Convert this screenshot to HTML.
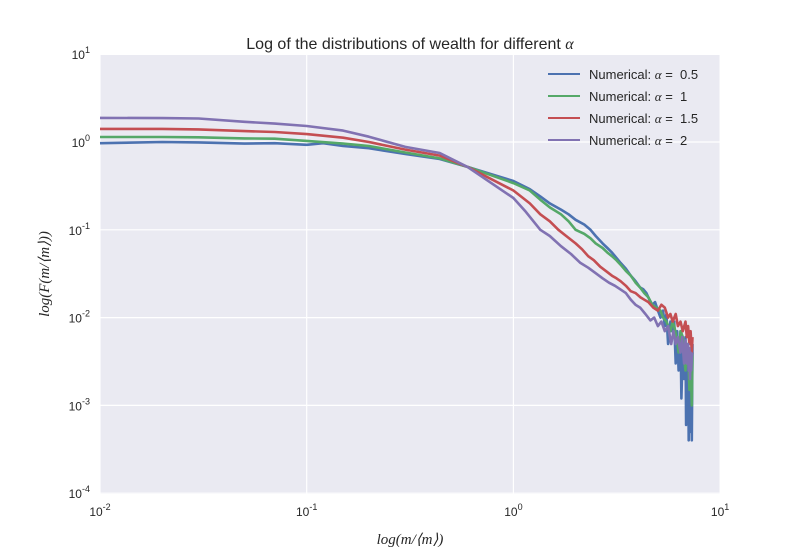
<!DOCTYPE html>
<html><head><meta charset="utf-8"><style>
body{margin:0;background:#fff;width:800px;height:550px;overflow:hidden;font-family:"Liberation Sans",sans-serif}
.sans{font-family:"Liberation Sans",sans-serif}
.math{font-family:"Liberation Serif",serif;font-style:italic}
</style></head><body>
<svg id="chart" width="800" height="550">
<rect x="100" y="55" width="620" height="439" fill="#EAEAF2"/>
<g id="grid"></g>
<g id="series"></g>
<g id="ticks"></g>
<text class="sans" x="410" y="49" font-size="16" text-anchor="middle" fill="#262626">Log of the distributions of wealth for different <tspan class="math">α</tspan></text>
<text class="math" x="410" y="544" font-size="15" text-anchor="middle" fill="#262626">log(m/⟨m⟩)</text>
<text class="math" transform="translate(49,274) rotate(-90)" font-size="15" text-anchor="middle" fill="#262626">log(F(m/⟨m⟩))</text>
<g id="legend"></g>
</svg>
<script>
const xTicks=[-2,-1,0,1];
const yTicks=[1,0,-1,-2,-3,-4];
const seriesNames=["0.5","1","1.5","2"];
const colors=["#4C72B0","#55A868","#C44E52","#8172B2"];
const mBlue=[0.01,0.02,0.03,0.05,0.07,0.1,0.12,0.15,0.2,0.3,0.44,0.6,1,1.2,1.35,1.5,1.7,1.85,2.0,2.2,2.36,2.5,2.7,2.85,3.0,3.15,3.3,3.5,3.7,3.9,4.1,4.25,4.4,4.55,4.7,4.85,5.0,5.15,5.3,5.4,5.5,5.6,5.75,5.85,6.0,6.1,6.2,6.3,6.43,6.5,6.6,6.7,6.8,6.85,6.9,6.95,7.0,7.05,7.1,7.15,7.2,7.25,7.3,7.35];
const vBlue=[0.97,1.0,0.99,0.96,0.97,0.93,0.97,0.9,0.85,0.73,0.64,0.52,0.36,0.29,0.24,0.2,0.17,0.15,0.13,0.115,0.1,0.085,0.07,0.062,0.055,0.048,0.042,0.036,0.03,0.026,0.022,0.021,0.019,0.016,0.014,0.015,0.012,0.01,0.012,0.008,0.011,0.005,0.009,0.007,0.009,0.003,0.007,0.0025,0.007,0.0012,0.005,0.002,0.006,0.0006,0.004,0.001,0.005,0.0004,0.004,0.0015,0.0005,0.003,0.0004,0.005];
const mGreen=[0.01,0.02,0.03,0.05,0.07,0.1,0.15,0.2,0.3,0.44,0.6,1,1.2,1.35,1.5,1.7,1.85,2.0,2.2,2.36,2.5,2.7,2.85,3.0,3.15,3.3,3.5,3.7,3.9,4.1,4.3,4.5,4.7,4.9,5.15,5.3,5.5,5.75,5.9,6.0,6.15,6.3,6.45,6.6,6.7,6.8,6.9,7.0,7.1,7.15,7.2,7.3,7.35];
const vGreen=[1.14,1.14,1.13,1.1,1.09,1.03,0.96,0.9,0.76,0.65,0.52,0.34,0.28,0.22,0.18,0.15,0.125,0.1,0.09,0.08,0.07,0.062,0.055,0.05,0.045,0.04,0.034,0.03,0.025,0.022,0.019,0.017,0.014,0.013,0.012,0.01,0.009,0.007,0.009,0.008,0.006,0.004,0.007,0.006,0.0035,0.0025,0.005,0.005,0.0015,0.004,0.003,0.001,0.004];
const mRed=[0.01,0.02,0.03,0.05,0.07,0.1,0.15,0.2,0.3,0.44,0.6,1,1.2,1.35,1.5,1.65,1.8,2.0,2.15,2.3,2.45,2.63,2.8,3.0,3.15,3.3,3.5,3.7,3.9,4.12,4.3,4.5,4.75,5.0,5.2,5.4,5.6,5.75,5.9,6.1,6.25,6.43,6.6,6.8,6.9,7.0,7.1,7.2,7.3,7.35];
const vRed=[1.41,1.41,1.39,1.33,1.3,1.23,1.12,1.0,0.82,0.7,0.52,0.28,0.2,0.15,0.125,0.1,0.085,0.07,0.06,0.05,0.045,0.038,0.034,0.03,0.028,0.026,0.023,0.02,0.019,0.017,0.016,0.015,0.013,0.012,0.014,0.013,0.01,0.011,0.009,0.011,0.008,0.009,0.007,0.009,0.006,0.008,0.005,0.007,0.004,0.006];
const mPurple=[0.01,0.02,0.03,0.05,0.07,0.1,0.15,0.2,0.3,0.44,0.6,1,1.15,1.35,1.5,1.7,1.9,2.11,2.3,2.5,2.7,2.9,3.1,3.29,3.5,3.7,3.9,4.1,4.35,4.6,4.8,5.0,5.2,5.4,5.6,5.8,5.95,6.1,6.25,6.43,6.55,6.7,6.8,6.9,7.0,7.05,7.1,7.15,7.2,7.25,7.3,7.35];
const vPurple=[1.88,1.87,1.85,1.7,1.62,1.52,1.35,1.15,0.88,0.75,0.52,0.23,0.16,0.1,0.085,0.065,0.053,0.042,0.037,0.032,0.028,0.025,0.023,0.021,0.019,0.016,0.014,0.013,0.011,0.0093,0.01,0.008,0.009,0.007,0.008,0.005,0.007,0.005,0.006,0.004,0.006,0.003,0.0055,0.003,0.005,0.0025,0.0045,0.002,0.004,0.0025,0.0035,0.004];
const mSeries=[mBlue,mGreen,mRed,mPurple];
const vSeries=[vBlue,vGreen,vRed,vPurple];
const X=m=>100+(Math.log10(m)+2)*206.7;
const Y=v=>142-87.8*Math.log10(v);
const ns="http://www.w3.org/2000/svg";
const grid=document.getElementById('grid'),ticks=document.getElementById('ticks'),ser=document.getElementById('series'),leg=document.getElementById('legend');
function mk(t,a,p){const e=document.createElementNS(ns,t);for(const k in a)e.setAttribute(k,a[k]);p.appendChild(e);return e;}
xTicks.forEach(t=>{const x=X(Math.pow(10,t));
 const l=mk('line',{x1:x,x2:x,y1:55,y2:494,stroke:'#fff','stroke-width':1.2},grid);
 
 
 const tx=mk('text',{x:x,y:516,'font-size':12,'text-anchor':'middle',fill:'#262626',class:'sans'},ticks);
 
 
 tx.innerHTML='10<tspan dy="-6" font-size="9">'+t+'</tspan>';});
yTicks.forEach(t=>{const y=Y(Math.pow(10,t));
 const l=mk('line',{x1:100,x2:720,y1:y,y2:y,stroke:'#fff','stroke-width':1.2},grid);
 
 
 const tx=mk('text',{x:90,y:y+5,'font-size':12,'text-anchor':'end',fill:'#262626',class:'sans'},ticks);
 
 
 tx.innerHTML='10<tspan dy="-6" font-size="9">'+t+'</tspan>';});
mSeries.forEach((ms,i)=>{const pts=ms.map((m,j)=>X(m).toFixed(1)+','+Y(vSeries[i][j]).toFixed(1)).join(' ');
 const p=mk('polyline',{points:pts,fill:'none',stroke:colors[i],'stroke-width':2.6,'stroke-linejoin':'round'},ser);
 
 
 const y=74+i*22;
 const ll=mk('line',{x1:548,x2:580,y1:y,y2:y,stroke:colors[i],'stroke-width':2},leg);
 
 
 const lt=mk('text',{x:589,y:y+5,'font-size':13,fill:'#262626',class:'sans'},leg);
 
 
 lt.innerHTML='Numerical: <tspan class="math">α</tspan> = &#160;'+seriesNames[i];});
</script>
</body></html>
